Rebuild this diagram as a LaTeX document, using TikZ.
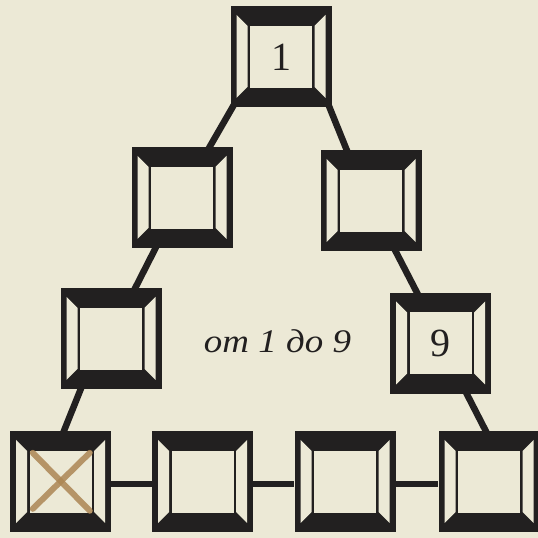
\documentclass[tikz,border=0pt]{standalone}
\usepackage{fontspec}
\setmainfont{Liberation Serif}
\newfontfamily\rangefont[FakeStretch=1.12]{Liberation Serif}
\usetikzlibrary{calc, backgrounds}
\definecolor{paper}{RGB}{236,233,214}
\definecolor{ink}{RGB}{34,32,32}
\definecolor{pencil}{RGB}{172,134,84}

\begin{document}
\begin{tikzpicture}[
    x=1pt, y=1pt,
    cell/.style={rectangle, fill=ink, text=ink, minimum size=101pt, inner sep=0pt, font=\fontsize{40}{40}\selectfont, bevel},
    bevel/.style={path picture={
        \fill[paper] ([shift={(6pt,-8.5pt)}]path picture bounding box.north west) -- ++(11pt,-11pt) -- ++(0pt,-61pt) -- ++(-11pt,-11pt) -- cycle;
        \fill[paper] ([shift={(-6pt,-8.5pt)}]path picture bounding box.north east) -- ++(-11pt,-11pt) -- ++(0pt,-61pt) -- ++(11pt,-11pt) -- cycle;
        \fill[paper] ([shift={(19.5pt,-19.5pt)}]path picture bounding box.north west) rectangle ([shift={(-19.5pt,19.5pt)}]path picture bounding box.south east);
    }},
    link/.style={draw=ink, line width=6.5pt},
    cross/.style={draw=pencil, line width=6pt, line cap=round, opacity=0.85}
]
\useasboundingbox (0,0) rectangle (538,538);
\begin{scope}[on background layer]
\fill[paper] (0,0) rectangle (538,538);
\end{scope}

\node[cell] (c1) at (281,481) {1};
\node[cell] (c2) at (182,340) {};
\node[cell] (c3) at (371,337) {};
\node[cell] (c4) at (111,199) {};
\node[cell] (c5) at (440.5,194.5) {9};
\node[cell] (c6) at (60.5,56) {};
\node[cell] (c7) at (202.5,56) {};
\node[cell] (c8) at (345,56) {};
\node[cell] (c9) at (489,56) {};

\begin{scope}[on background layer]
\draw[link] ([shift={(6pt,7pt)}]c1.south west) -- ([shift={(73.5pt,-8pt)}]c2.north west);
\draw[link] ([shift={(-5.7pt,9pt)}]c1.south east) -- ([shift={(29.8pt,-8pt)}]c3.north west);
\draw[link] ([shift={(28pt,8pt)}]c2.south west) -- ([shift={(70.7pt,-8pt)}]c4.north west);
\draw[link] ([shift={(71.4pt,8pt)}]c3.south west) -- ([shift={(31.4pt,-8pt)}]c5.north west);
\draw[link] ([shift={(23.4pt,8pt)}]c4.south west) -- ([shift={(51pt,-7.5pt)}]c6.north west);
\draw[link] ([shift={(73pt,8pt)}]c5.south west) -- ([shift={(51.5pt,-7.5pt)}]c9.north west);
\draw[link] ([yshift=-2pt]c6.east) -- ([yshift=-2pt]c7.west);
\draw[link] ([yshift=-2pt]c7.east) -- ([yshift=-2pt]c8.west);
\draw[link] ([yshift=-2pt]c8.east) -- ([yshift=-2pt]c9.west);
\end{scope}

\node[anchor=base, text=ink, font=\rangefont\fontsize{33}{33}\selectfont\itshape] (range) at (277.5,185) {от 1 до 9};

\draw[cross] ([shift={(23pt,-21.5pt)}]c6.north west) -- ([shift={(80pt,-79.5pt)}]c6.north west);
\draw[cross] ([shift={(80pt,-21.5pt)}]c6.north west) -- ([shift={(23pt,-77.5pt)}]c6.north west);
\end{tikzpicture}
\end{document}
